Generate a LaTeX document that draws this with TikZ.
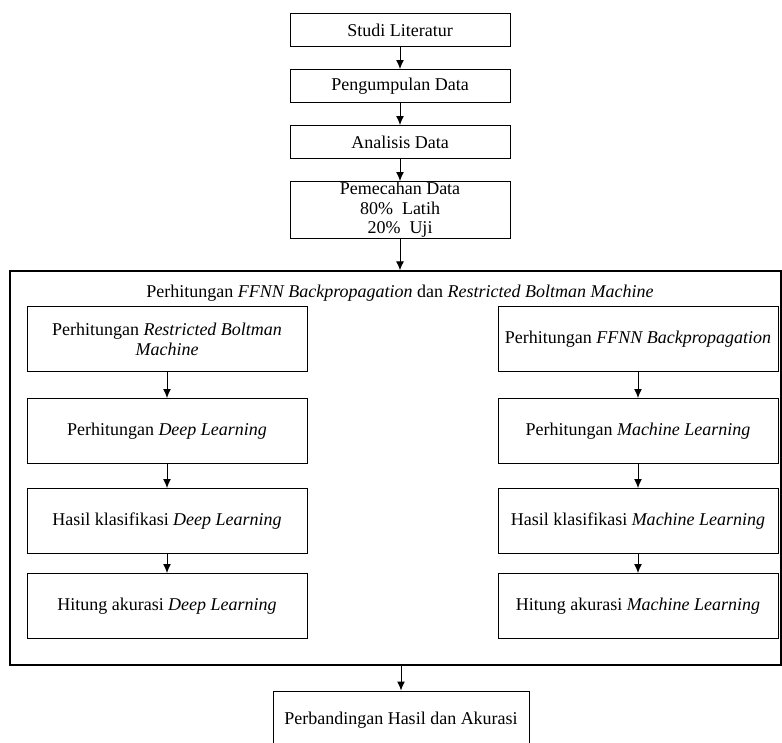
\documentclass[tikz,border=0pt]{standalone}
\usepackage{fontspec}
\setmainfont{Liberation Serif}
\usetikzlibrary{arrows.meta,positioning}
\tikzstyle{stepbox}=[draw,rectangle,line width=1pt,align=center,inner sep=2pt,font=\fontsize{18}{20}\selectfont]
\tikzstyle{topbox}=[stepbox,minimum width=220pt,minimum height=33pt]
\tikzstyle{sidebox}=[stepbox,minimum width=280pt,minimum height=65pt]
\tikzstyle{flow}=[-{Latex[length=9pt,width=8pt]},line width=1pt]

\begin{document}
\begin{tikzpicture}[x=1pt,y=-1pt]
\useasboundingbox (0,0) rectangle (782,742);
\node [topbox] (studi) at (400,30) {Studi Literatur};
\node [topbox, below=22pt of studi] (kumpul) {Pengumpulan Data};
\node [topbox, below=22pt of kumpul] (analisis) {Analisis Data};
\node [topbox, below=22pt of analisis, minimum height=57pt, inner ysep=0pt, font=\fontsize{18}{19.5}\selectfont] (pecah) {Pemecahan Data\\80\%\hspace{0.5em}Latih\\20\%\hspace{0.5em}Uji};
% kotak proses
\node [draw, line width=1.4pt, minimum width=771pt, minimum height=394pt] (proses) at (395.5,468) {};
\node [font=\fontsize{18}{20}\selectfont] (judul) at (400,293) {Perhitungan \textit{FFNN Backpropagation} dan \textit{Restricted Boltman Machine}};
% kiri
\node [sidebox] (rbm) at (167,339) {Perhitungan \textit{Restricted Boltman}\\\textit{Machine}};
\node [sidebox, below=26pt of rbm] (dl) {Perhitungan \textit{Deep Learning}};
\node [sidebox, below=24pt of dl] (hasildl) {Hasil klasifikasi \textit{Deep Learning}};
\node [sidebox, below=19pt of hasildl] (akurdl) {Hitung akurasi \textit{Deep Learning}};
% kanan
\node [sidebox] (ffnn) at (638,339) {Perhitungan \textit{FFNN Backpropagation}};
\node [sidebox, below=26pt of ffnn] (ml) {Perhitungan \textit{Machine Learning}};
\node [sidebox, below=24pt of ml] (hasilml) {Hasil klasifikasi \textit{Machine Learning}};
\node [sidebox, below=19pt of hasilml] (akurml) {Hitung akurasi \textit{Machine Learning}};
% hasil akhir
\node [stepbox, minimum width=256pt, minimum height=58pt] (banding) at (401,720) {Perbandingan Hasil dan Akurasi};

\draw [flow] (studi) -- (kumpul);
\draw [flow] (kumpul) -- (analisis);
\draw [flow] (analisis) -- (pecah);
\draw [flow] (pecah.south) -- (pecah.south |- proses.north);
\draw [flow] (rbm) -- (dl);
\draw [flow] (dl) -- (hasildl);
\draw [flow] (hasildl) -- (akurdl);
\draw [flow] (ffnn) -- (ml);
\draw [flow] (ml) -- (hasilml);
\draw [flow] (hasilml) -- (akurml);
\draw [flow] (banding.north |- proses.south) -- (banding.north);
\end{tikzpicture}
\end{document}
